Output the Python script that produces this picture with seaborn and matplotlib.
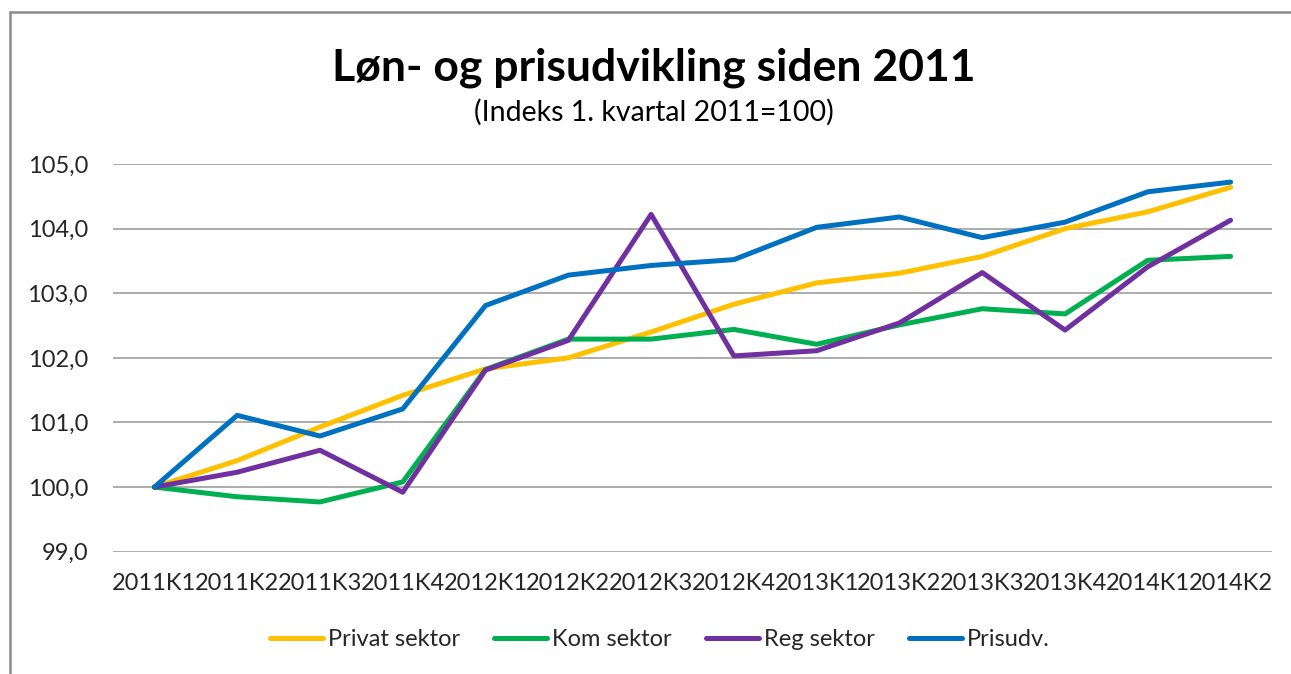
import pandas as pd
import matplotlib
matplotlib.use('Agg')
import matplotlib.pyplot as plt
import seaborn as sns
from matplotlib.lines import Line2D

# data
kvartaler = ['2011K1', '2011K2', '2011K3', '2011K4', '2012K1', '2012K2', '2012K3',
             '2012K4', '2013K1', '2013K2', '2013K3', '2013K4', '2014K1', '2014K2']
privat = [100.0, 100.41, 100.93, 101.42, 101.83, 102.00, 102.40, 102.83, 103.16, 103.31, 103.57, 104.00, 104.26, 104.64]
kom = [100.0, 99.85, 99.77, 100.08, 101.82, 102.29, 102.29, 102.44, 102.21, 102.51, 102.76, 102.68, 103.51, 103.57]
reg = [100.0, 100.23, 100.57, 99.92, 101.81, 102.27, 104.22, 102.03, 102.11, 102.54, 103.32, 102.43, 103.41, 104.13]
prisudv = [100.0, 101.11, 100.79, 101.21, 102.81, 103.28, 103.43, 103.52, 104.02, 104.18, 103.86, 104.10, 104.57, 104.72]
serier = ['Privat sektor', 'Kom sektor', 'Reg sektor', 'Prisudv.']
farver = ['#FFC000', '#00B050', '#7030A0', '#0070C0']
yticks = [99, 100, 101, 102, 103, 104, 105]

df = pd.DataFrame({'kvartal': kvartaler, 'Privat sektor': privat, 'Kom sektor': kom,
                   'Reg sektor': reg, 'Prisudv.': prisudv})
df_long = df.melt(id_vars='kvartal', var_name='serie', value_name='indeks')
df_long['x'] = df_long['kvartal'].map({k: i for i, k in enumerate(kvartaler)})

sns.set_theme(style='white')
plt.rcParams['font.family'] = ['Lato', 'DejaVu Sans']

fig = plt.figure(figsize=(12.91, 6.74), dpi=100)
ax = fig.add_axes([113/1291, 1 - 551.7/674, (1272 - 113)/1291, (551.7 - 164)/674])

sns.lineplot(data=df_long, x='x', y='indeks', hue='serie', hue_order=serier,
             palette=farver, linewidth=3.6, ax=ax, legend=False)

ax.set_xlim(-0.5, len(kvartaler) - 0.5)
ax.set_ylim(99, 105)
ax.set_xticks(range(len(kvartaler)))
ax.set_xticklabels(kvartaler)
ax.set_yticks(yticks)
ax.set_yticklabels([f'{v:.1f}'.replace('.', ',') for v in yticks])
ax.set_xlabel('')
ax.set_ylabel('')
ax.tick_params(axis='both', length=0, labelsize=17, colors='#262626')
ax.tick_params(axis='y', pad=18)
ax.tick_params(axis='x', pad=15)
ax.yaxis.grid(True, color='#A6A6A6', linewidth=1.3)
ax.set_axisbelow(True)
for s in ax.spines.values():
    s.set_visible(False)

fig.text(0.5066, 1 - 81/674, 'Løn- og prisudvikling siden 2011', ha='center', va='baseline',
         fontsize=32, fontweight='bold', color='black')
fig.text(0.5066, 1 - 121/674, '(Indeks 1. kvartal 2011=100)', ha='center', va='baseline',
         fontsize=20.5, color='black')

handles = [Line2D([0], [0], color=c, linewidth=3.6) for c in farver]
fig.legend(handles, serier, loc='center', bbox_to_anchor=(0.511, 1 - 640/674), ncol=4,
           frameon=False, fontsize=17, handlelength=2.25, handletextpad=0.2,
           columnspacing=1.45, labelcolor='#262626')

# chart border (left and top edges are visible in the reference)
fig.add_artist(Line2D([10/1291, 10/1291], [0, 1 - 12/674], color='#8C8C8C', linewidth=1.8, transform=fig.transFigure))
fig.add_artist(Line2D([10/1291, 1], [1 - 12/674, 1 - 12/674], color='#8C8C8C', linewidth=1.8, transform=fig.transFigure))

fig.savefig('out.png', dpi=100)
